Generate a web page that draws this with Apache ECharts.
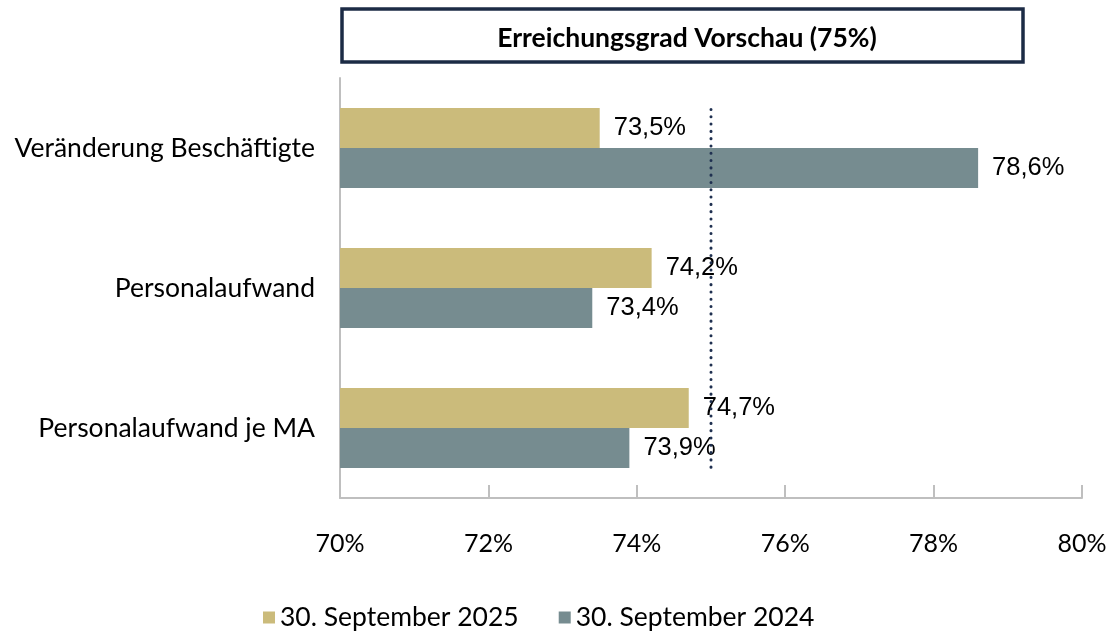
<!DOCTYPE html>
<html>
<head>
<meta charset="utf-8">
<script src="https://cdn.jsdelivr.net/npm/echarts@6/dist/echarts.min.js"></script>
<style>
  html, body { margin: 0; padding: 0; background: #fff; }
  #chart { width: 1115px; height: 637px; }
</style>
</head>
<body>
<div id="chart"></div>
<script>
  // Daten
  const categories = ['Veränderung Beschäftigte', 'Personalaufwand', 'Personalaufwand je MA']
  const seriesNames = ['30. September 2025', '30. September 2024']
  const values2025 = [73.5, 74.2, 74.7]
  const values2024 = [78.6, 73.4, 73.9]
  const target = 75 // Vorschau 75%
  const targetSpan = [0.22, 2.82] // Ausdehnung der Ziel-Linie auf der Hilfsachse (0..3)

  const chart = echarts.init(document.getElementById('chart'))
  const fmt = (v) => v.toFixed(1).replace('.', ',') + '%'

  chart.setOption({
    animation: false,
    graphic: [{
      type: 'rect',
      shape: { x: 342, y: 9, width: 681, height: 53 },
      style: { fill: '#fff', stroke: '#1c2b45', lineWidth: 3.5 }
    }],
    title: {
      text: 'Erreichungsgrad Vorschau (75%)',
      left: 682, top: 20, textAlign: 'center',
      textStyle: { fontFamily: 'Lato', fontWeight: 'bold', fontSize: 26.5, color: '#000' }
    },
    legend: {
      data: seriesNames,
      bottom: 1, left: 258,
      icon: 'rect', itemWidth: 12, itemHeight: 12, itemGap: 40,
      textStyle: { fontFamily: 'Lato', fontSize: 26.5, color: '#000' }
    },
    grid: { left: 340, right: 33, top: 78, bottom: 139 },
    xAxis: {
      type: 'value', min: 70, max: 80, interval: 2,
      axisLine: { show: true, lineStyle: { color: '#bfbfbf', width: 2 } },
      axisTick: { show: true, inside: true, length: 13, lineStyle: { color: '#bfbfbf', width: 2 } },
      splitLine: { show: false },
      axisLabel: { formatter: '{value}%', margin: 33, fontFamily: 'Lato', fontSize: 25, color: '#000' }
    },
    yAxis: [{
      type: 'category', data: categories, inverse: true,
      axisLine: { show: true, lineStyle: { color: '#bfbfbf', width: 2 } },
      axisTick: { show: false },
      axisLabel: { margin: 25, fontFamily: 'Lato', fontSize: 26.5, color: '#000' }
    }, {
      type: 'value', min: 0, max: 3, show: false
    }],
    series: [{
      name: seriesNames[0], type: 'bar', data: values2025,
      itemStyle: { color: '#cbbb7b' },
      barGap: '0%', barCategoryGap: '43%',
      label: { show: true, position: 'right', distance: 14, formatter: (p) => fmt(p.value),
        fontFamily: 'Liberation Sans', fontSize: 25.5, color: '#000' }
    }, {
      name: seriesNames[1], type: 'bar', data: values2024,
      itemStyle: { color: '#768c90' },
      barGap: '0%', barCategoryGap: '43%',
      label: { show: true, position: 'right', distance: 14, formatter: (p) => fmt(p.value),
        fontFamily: 'Liberation Sans', fontSize: 25.5, color: '#000' }
    }, {
      name: 'Ziel', type: 'line', yAxisIndex: 1, z: 5,
      data: targetSpan.map((y) => [target, y]),
      symbol: 'none',
      lineStyle: { color: '#1f3050', width: 3, type: [0.1, 7.2], cap: 'round' },
      silent: true
    }]
  })
</script>
</body>
</html>
